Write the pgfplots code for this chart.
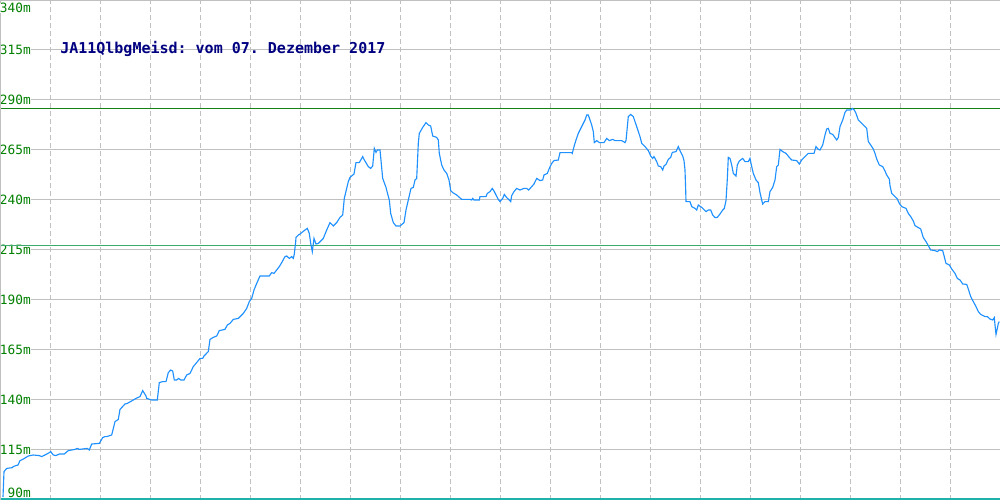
\documentclass[border=0pt]{standalone}
\usepackage{fontspec}
\setmonofont{DejaVu Sans Mono}
\usepackage{pgfplots}
\pgfplotsset{compat=1.18}
\definecolor{lineblue}{RGB}{30,144,255}
\definecolor{gridgray}{RGB}{192,192,192}
\definecolor{labelgreen}{RGB}{0,128,0}
\definecolor{upgreen}{RGB}{20,130,20}
\definecolor{lowgreen}{RGB}{60,170,110}
\definecolor{baseteal}{RGB}{32,178,170}
\definecolor{titleblue}{RGB}{0,0,128}
\begin{document}
\begin{tikzpicture}
\begin{axis}[
  scale only axis, width=750pt, height=375pt,
  xmin=0, xmax=1000, ymin=90, ymax=340,
  axis line style={draw=none},
  xtick={50,100,...,950}, xticklabels={},
  ytick={115,140,165,190,215,240,265,290,315},
  yticklabels={115m,140m,165m,190m,215m,240m,265m,290m,315m},
  major tick length=0pt,
  xmajorgrids, ymajorgrids,
  x grid style={gridgray, line width=0.75pt, dash pattern=on 3.75pt off 2.25pt},
  y grid style={gridgray, line width=0.75pt},
  yticklabel style={anchor=east, xshift=23.25pt, inner sep=0pt, fill=white,
    text=labelgreen, font=\ttfamily\fontsize{9.6}{9.6}\selectfont},
  clip=false,
]
\addplot[upgreen, line width=0.75pt] coordinates {(0,285.8) (1000,285.8)};
\addplot[lowgreen, line width=0.75pt] coordinates {(0,217.3) (1000,217.3)};
\addplot[baseteal, line width=1.1pt] coordinates {(0,90.6) (1000,90.6)};
\addplot[lineblue, line width=0.85pt] coordinates {
(3,91.5)(4,104.2)(6.7,105.8)(12.7,106.2)(13,106.7)(18,107.5)(20,109.7)(22.7,110.3)(28.3,112)(33.3,112.5)
(39.3,112.2)(41.7,111.7)(45,112.5)(49.3,113.7)(50.7,114.2)(53.3,112.5)(56,112.2)(59.3,113)(64.3,113)
(68.3,114.7)(75,115.3)(77.3,115.8)(79.3,115.3)(87.3,115.8)(89.3,115)(91.7,118)(99.3,118.3)(102.7,121.2)
(105,121.7)(106.7,121.7)(111.7,122.5)(115,129.2)(118.3,130.3)(120,135.3)(125,138)(127.3,138.3)(133.3,140)
(136,140.8)(140,141.7)(142.7,144.7)(146,142)(146.7,140.8)(151.7,140)(157.3,140)(159.3,148.7)(162.7,149.2)
(166,149.2)(168.3,153.7)(170.7,155)(172.7,154.5)(174.3,150)(176.7,150)(178.7,150.8)(180.7,150)(184,150)
(186.7,152.5)(190,153.3)(193.3,156.7)(198.3,159.7)(200,160.8)(202.7,160.8)(204,162)(208.3,164.2)(210,170.3)
(213.3,171.3)(216.7,172)(219.3,174.7)(225,175.3)(227.3,177.5)(230,178.3)(233.3,180.3)(238.3,180.8)
(243.3,183.3)(246.7,185.8)(249.3,189.2)(251.7,190.8)(254,195)(256.7,198.3)(260,202)(269.3,202)(271.7,203.7)
(274,203.3)(279.3,206.7)(281.7,208.7)(285,211.7)(286.7,212)(289.3,210.8)(291.7,211.7)(293.3,210.8)(294.3,213)
(295.7,219.2)(296,221.3)(298.3,222.5)(300,223)(305,225)(307.3,225.8)(309.3,223.3)(310.7,218.3)(312.3,214.2)
(314,220.8)(316,218)(318.3,218.3)(323.3,220.8)(326.7,225)(330,228.7)(333.3,227)(336.7,228.7)(340,231.3)
(342.7,232.5)(344.3,240.8)(348.3,249.2)(350,251.3)(354,253)(356,258.7)(359.3,258.7)(362.7,261.7)(364,260.3)
(368.3,256.7)(370.7,255.8)(372.7,257)(374.3,265.8)(376,263.8)(377.3,265)(380,265)(382.7,250.8)(386,246.3)
(387.3,243.7)(389.3,240)(390.7,233.3)(393.3,228.7)(396,227)(400,227)(404,228.7)(406,235)(408.3,240)
(411,245.8)(413.3,246.3)(415,250)(416.7,250.8)(418.3,268.3)(419.3,273.3)(422.7,276.3)(426,278.7)(428.3,277.5)
(430.7,277)(432.7,272)(436.7,271.3)(438.3,270)(439.3,263.3)(441.7,257.5)(444,255)(446.7,253.3)(449,250)
(450.7,244.7)(452.7,243.7)(456.7,242.5)(461.7,240.3)(470,240.3)(471.7,240)(472.7,240.8)(474,240)(479.3,240)
(480,241.7)(486,241.7)(487.3,243.3)(490,244.2)(492.3,245.8)(494.3,244.2)(496,242.5)(498.3,240.3)(500,239.2)
(502.7,240.8)(504.3,242.8)(506.7,241.2)(509.3,240)(510.7,239.2)(511.7,242.2)(514,244.2)(516.7,245.8)(520,245)
(524,245.8)(526.7,245.8)(528.7,245)(531.7,246.7)(534,248)(536.7,250.8)(540,249.7)(542.7,250)(544,252.5)
(547.3,253.3)(549.3,255.8)(551.7,258.3)(554,259.7)(558.3,260)(560,263.7)(571.7,263.7)(572.3,263.3)(574,266.7)
(576,270)(578.3,273.3)(581.7,276.7)(585,280)(586.7,282.5)(588.3,282.5)(591.7,277.5)(593.3,274.2)(594.3,268.7)
(596.7,269.7)(599.3,268.7)(604,268.7)(606.7,270.8)(609.3,269.7)(612.7,270.3)(615,269.7)(621.7,269.7)
(625,268.7)(626,269.7)(628.3,281.7)(630.7,282.8)(633.3,281.7)(636.7,276.7)(640,271.7)(641.7,268.3)
(645,266.7)(648.3,264.7)(650.7,262)(652.7,260.8)(654,261.7)(656.7,259.2)(658.3,257)(660.7,256.7)(662.7,255)
(664,257)(666,257.8)(668.3,260.3)(670.7,261.3)(672.3,263.8)(676,264.2)(678.3,266.7)(680,264.7)(682.7,262)
(684,259.7)(685,255)(685.7,244.7)(686,239.2)(690,239.2)(691.7,236.7)(695,235.8)(696.7,235)(698.3,237.5)
(701.7,236.3)(706,234.2)(708.3,235)(710.7,235)(712.7,232.5)(715,231.2)(717.3,231.3)(720,233)(722.7,235)
(724.3,235.8)(726,239.7)(727.3,250.3)(728.3,261.3)(730,260.8)(731.7,257.5)(733.3,253.3)(736,252)(737.3,257.5)
(739.3,259.5)(742.7,260.8)(745,259.2)(748.3,259.2)(750,260.8)(751.7,256.7)(753.3,253.3)(756,250)(758.3,248.7)
(760,243.7)(761.7,240)(762.7,238)(765,239.2)(768.3,239.2)(770,244.2)(772.7,246.3)(775,250)(776.7,256.7)
(778.3,257.5)(780,265.3)(782.7,264.2)(786,263.3)(789.3,261.3)(791.7,260)(796.7,259.7)(799.3,258)(801.7,260)
(805,261.7)(808.3,263.3)(814,263.3)(816,266.7)(818.3,265.3)(820,265)(822.7,267.5)(825,272.5)(826.7,275.5)
(828.3,275.8)(830,273.3)(832.7,272.8)(835,271.2)(836.7,270)(838.3,271.2)(840,276.7)(842.7,280)(845,283.8)
(846.7,285)(850.7,285)(852.3,285.8)(854.3,285)(856,283.3)(858.3,280)(861.7,278.3)(865,276.7)(866.7,275.8)
(868.3,269.2)(870.7,267.5)(873.3,265.5)(875,263.3)(876.7,260.5)(879.3,257.5)(882.7,256.7)(885,254.5)
(886.7,252.5)(889.3,250.5)(890,247.2)(891.7,243.3)(895,241.7)(897.3,240.5)(899.3,238.3)(901.7,236.7)
(906,235.8)(908.3,233.3)(910.7,231.7)(913.3,229.5)(915,227.2)(918.3,226.2)(920.7,225.5)(923.3,221.2)
(926,219.2)(928.3,217.2)(930.7,215)(935,214.7)(937.3,214.2)(939.3,215)(942.7,214.7)(944,212.2)(946,208.3)
(949.3,207.5)(951.7,205.5)(955,203.3)(957.3,200.8)(960,200)(962.7,198)(966.7,197.8)(968.3,195.5)(970.7,191.7)
(973.3,189.2)(976,186.7)(978.3,184.2)(980.7,182.8)(985,181.7)(987.3,181.7)(990,180.5)(992.7,180)(994.3,181.2)
(995,177.5)(996,172.8)(997.3,175.8)(998.3,178.3)(999.3,179.2)
};
\draw[gridgray, line width=0.9pt] (rel axis cs:0,0) -- (rel axis cs:0,1);
\draw[gridgray, line width=0.9pt] (rel axis cs:0,1) -- (rel axis cs:1,1);
\node[anchor=north east, inner sep=0pt, fill=white, text=labelgreen,
  font=\ttfamily\fontsize{9.6}{9.6}\selectfont] at ([xshift=23.25pt, yshift=-2.2pt]rel axis cs:0,1) {340m};
\node[anchor=south east, inner sep=0pt, fill=white, text=labelgreen,
  font=\ttfamily\fontsize{9.6}{9.6}\selectfont] at ([xshift=23.25pt, yshift=1.5pt]rel axis cs:0,0) {90m};
\node[anchor=base west, inner sep=0pt, text=titleblue,
  font=\ttfamily\bfseries\fontsize{11.25}{11.25}\selectfont] at (axis cs:60,313.3) {JA11QlbgMeisd: vom 07. Dezember 2017};
\end{axis}
\pgfresetboundingbox
\path (current axis.south west) rectangle (current axis.north east);
\end{tikzpicture}
\end{document}
